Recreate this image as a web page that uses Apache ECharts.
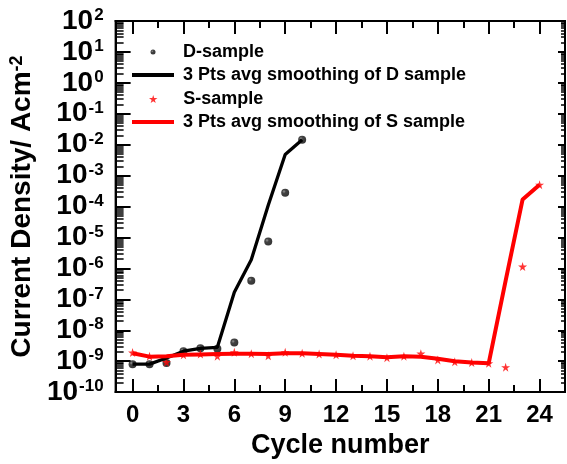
<!DOCTYPE html>
<html>
<head>
<meta charset="utf-8">
<script src="https://cdn.jsdelivr.net/npm/echarts@6/dist/echarts.min.js"></script>
<style>
html,body{margin:0;padding:0;background:#fff;}
#c{width:567px;height:464px;}
</style>
</head>
<body>
<div id="c"></div>
<script>
// ---- data ----
const cyclesD = [0,1,2,3,4,5,6,7,8,9,10];
const dSample = [8e-10, 8e-10, 8.7e-10, 2.1e-9, 2.6e-9, 2.5e-9, 4e-9, 4e-7, 7.4e-6, 2.8e-4, 1.45e-2];
const dSmooth = [8e-10, 8e-10, 1.26e-9, 2.1e-9, 2.6e-9, 2.8e-9, 1.7e-7, 1.9e-6, 1.1e-4, 4.8e-3, 1.45e-2];
const cyclesS = [0,1,2,3,4,5,6,7,8,9,10,11,12,13,14,15,16,17,18,19,20,21,22,23,24];
const sSample = [1.9e-9, 1.45e-9, 9.3e-10, 1.6e-9, 1.7e-9, 1.45e-9, 1.95e-9, 1.75e-9, 1.5e-9, 1.95e-9,
                 1.8e-9, 1.7e-9, 1.6e-9, 1.5e-9, 1.45e-9, 1.3e-9, 1.45e-9, 1.75e-9, 1.1e-9, 9.5e-10,
                 9e-10, 8.5e-10, 6.4e-10, 1.15e-6, 5.1e-4];
const sSmooth = [1.8e-9, 1.4e-9, 1.45e-9, 1.6e-9, 1.65e-9, 1.7e-9, 1.75e-9, 1.75e-9, 1.7e-9, 1.8e-9,
                 1.8e-9, 1.7e-9, 1.6e-9, 1.5e-9, 1.45e-9, 1.35e-9, 1.45e-9, 1.4e-9, 1.2e-9, 1.0e-9,
                 9e-10, 8.5e-10, 4e-7, 1.7e-4, 5.1e-4];
const xMajorTicks = [0,3,6,9,12,15,18,21,24];
const xMinorTicks = [1.5,4.5,7.5,10.5,13.5,16.5,19.5,22.5];
const yExponents = [-10,-9,-8,-7,-6,-5,-4,-3,-2,-1,0,1,2];
const minorMultipliers = [2,3,4,5,6,7,8,9];
const seriesNames = ['D-sample','3 Pts avg smoothing of D sample','S-sample','3 Pts avg smoothing of S sample'];

// ---- derived ----
const yMinorTicks = [];
yExponents.slice(0,-1).forEach(e => minorMultipliers.forEach(m => yMinorTicks.push(e + Math.log10(m))));
const pairs = (xs, ys) => ys.map((v,i) => [xs[i], v]);

const FONT = 'Liberation Sans';
const STAR = 'path://M50,0 L61,35 L98,35 L68,57 L79,91 L50,70 L21,91 L32,57 L2,35 L39,35 Z';
const black = '#000';
const red = '#ff0000';

// helper axes whose zero sits on a plot edge (used to anchor the tick axes via onZero)
const X_ZERO_LEFT = 4, X_ZERO_RIGHT = 5, Y_ZERO_BOTTOM = 5, Y_ZERO_TOP = 6;

function xAx(pos, len, ticks, extra) {
  return Object.assign({type:'value', min:-1, max:25.5, position:pos, splitLine:{show:false},
    axisLine:{show:true, onZero:true, onZeroAxisIndex: pos === 'bottom' ? Y_ZERO_BOTTOM : Y_ZERO_TOP,
              lineStyle:{color:black, width:2}},
    axisLabel:{show:false},
    axisTick:{show:true, inside:true, length:len, lineStyle:{color:black, width:2}, customValues:ticks}}, extra || {});
}
function yAx(pos, len, ticks, w, extra) {
  const tick = {show:true, inside:true, length:len, lineStyle:{color:black, width:w}};
  if (ticks) tick.customValues = ticks;
  return Object.assign({type:'value', min:-10, max:2, interval:1, position:pos, splitLine:{show:false},
    axisLine:{show:true, onZero:true, onZeroAxisIndex: pos === 'left' ? X_ZERO_LEFT : X_ZERO_RIGHT,
              lineStyle:{color:black, width:2}},
    axisLabel:{show:false},
    axisTick:tick}, extra || {});
}
const helper = (pos, mn, mx) => ({type:'value', min:mn, max:mx, position:pos, show:false,
  axisLine:{show:false, onZero:false}, splitLine:{show:false}});

const xAxes = [
  xAx('bottom', 13, xMajorTicks, {
    axisLabel:{show:true, customValues:xMajorTicks, margin:11, color:black, fontFamily:FONT, fontWeight:'bold', fontSize:24},
    name:'Cycle number', nameLocation:'middle', nameGap:29,
    nameTextStyle:{color:black, fontFamily:FONT, fontWeight:'bold', fontSize:27}}),
  xAx('bottom', 7, xMinorTicks),
  xAx('top', 13, xMajorTicks),
  xAx('top', 7, xMinorTicks),
  helper('bottom', 0, 1),
  helper('bottom', -1, 0)
];

const yAxes = [
  {type:'log', logBase:10, min:1e-10, max:1e2, show:false, axisLine:{show:false, onZero:false}},
  yAx('left', 15, null, 2, {
    axisLabel:{show:true, margin:12,
      formatter: v => '{b|10}{s|' + v + '}',
      rich:{
        b:{fontFamily:FONT, fontWeight:'bold', fontSize:28, color:black, lineHeight:28},
        s:{fontFamily:FONT, fontWeight:'bold', fontSize:17, color:black, lineHeight:17, verticalAlign:'top', padding:[0,0,0,1]}
      }},
    name:'{n|Current Density/ Acm}{s|-2}', nameLocation:'middle', nameGap:72, nameRotate:90,
    nameTextStyle:{rich:{
      n:{fontFamily:FONT, fontWeight:'bold', fontSize:28, color:black, lineHeight:28},
      s:{fontFamily:FONT, fontWeight:'bold', fontSize:18, color:black, lineHeight:18, verticalAlign:'top'}
    }}}),
  yAx('left', 8, yMinorTicks, 1.5),
  yAx('right', 7, null, 2),
  yAx('right', 4, yMinorTicks, 1.5),
  helper('left', 0, 1),
  helper('left', -1, 0)
];

const dotColor = {type:'radial', x:0.35, y:0.35, r:0.75, colorStops:[
  {offset:0, color:'#7a7a7a'}, {offset:0.3, color:'#151515'}, {offset:1, color:'#000'}]};

const legendRowCenters = [52, 75, 99, 122];
const legendIcons = ['circle', 'rect', STAR, 'rect'];
const legendIconSizes = [5, 4, 8, 4];
const legends = seriesNames.map((n, i) => {
  const isLine = legendIcons[i] === 'rect';
  return {
    data:[{name:n, icon:legendIcons[i]}],
    left: isLine ? 132 : 153 - legendIconSizes[i] / 2,
    top: legendRowCenters[i] - 9, padding:0, selectedMode:false,
    itemWidth:42, itemHeight:legendIconSizes[i],
    textStyle:{fontFamily:FONT, fontWeight:'bold', fontSize:18, color:black, lineHeight:18, padding:[0,0,0,4]}
  };
});

const option = {
  animation:false,
  grid:{left:113, right:2, top:21, bottom:71, show:true, borderColor:black, borderWidth:2},
  legend: legends,
  xAxis: xAxes,
  yAxis: yAxes,
  series:[
    {name:seriesNames[1], type:'line', data:pairs(cyclesD, dSmooth), xAxisIndex:0, yAxisIndex:0,
     symbol:'none', lineStyle:{color:black, width:3.3}, itemStyle:{color:black}},
    {name:seriesNames[0], type:'scatter', data:pairs(cyclesD, dSample), xAxisIndex:0, yAxisIndex:0,
     symbol:'circle', symbolSize:8, itemStyle:{color:dotColor}},
    {name:seriesNames[3], type:'line', data:pairs(cyclesS, sSmooth), xAxisIndex:0, yAxisIndex:0,
     symbol:'none', lineStyle:{color:red, width:4}, itemStyle:{color:red}},
    {name:seriesNames[2], type:'scatter', data:pairs(cyclesS, sSample), xAxisIndex:0, yAxisIndex:0,
     symbol:STAR, symbolSize:9, itemStyle:{color:red}}
  ]
};

const chart = echarts.init(document.getElementById('c'));
chart.setOption(option);
</script>
</body>
</html>
